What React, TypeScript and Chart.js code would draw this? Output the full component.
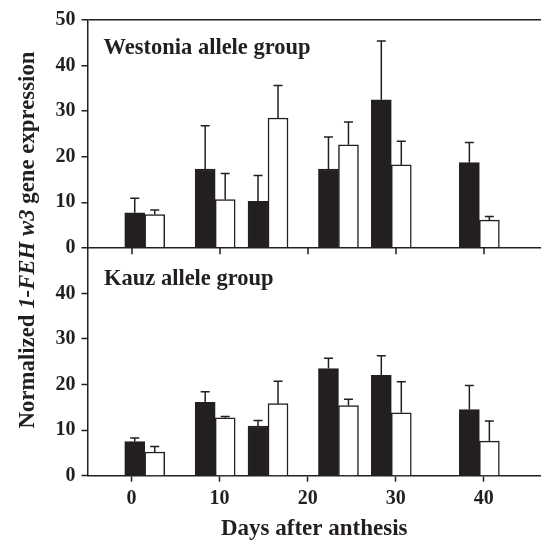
import React, { useEffect, useRef } from 'react';
import { Chart, registerables } from 'chart.js';

Chart.register(...registerables);

// ---- data ----
const days = [1.5, 9.5, 15.5, 23.5, 29.5, 39.5];
const westoniaFilled = [7.7, 17.3, 10.2, 17.3, 32.5, 18.7];
const westoniaFilledErr = [3.2, 9.5, 5.7, 7.0, 12.9, 4.4];
const westoniaOpen = [7.3, 10.6, 28.5, 22.6, 18.2, 6.1];
const westoniaOpenErr = [1.0, 5.7, 7.1, 5.0, 5.2, 0.8];
const kauzFilled = [7.5, 16.1, 10.9, 23.5, 22.0, 14.5];
const kauzFilledErr = [0.8, 2.3, 1.2, 2.3, 4.3, 5.3];
const kauzOpen = [5.2, 12.7, 15.8, 15.4, 13.8, 7.6];
const kauzOpenErr = [1.2, 0.3, 4.9, 1.4, 6.8, 4.4];
const panelLabels = ['Westonia allele group', 'Kauz allele group'];
const xTitle = 'Days after anthesis';
const yTitleParts = [
  { text: 'Normalized ', italic: false },
  { text: '1-FEH w3', italic: true },
  { text: ' gene expression', italic: false },
];

const INK = '#231f20';
const SERIF = "'Liberation Serif', 'Times New Roman', serif";

const toPoints = (vals: number[]) => days.map((d, i) => ({ x: d, y: vals[i] }));

const errorBarPlugin = {
  id: 'errorBars',
  afterDatasetsDraw(chart: any) {
    const ctx = chart.ctx;
    chart.data.datasets.forEach((ds: any, di: number) => {
      const meta = chart.getDatasetMeta(di);
      const yScale = chart.scales[meta.yAxisID];
      meta.data.forEach((bar: any, i: number) => {
        const v = ds.data[i].y;
        const top = yScale.getPixelForValue(v + ds.errors[i]);
        ctx.save();
        ctx.strokeStyle = INK;
        ctx.lineWidth = 1.5;
        ctx.beginPath();
        ctx.moveTo(bar.x, bar.y);
        ctx.lineTo(bar.x, top);
        ctx.moveTo(bar.x - 4.5, top);
        ctx.lineTo(bar.x + 4.5, top);
        ctx.stroke();
        ctx.restore();
      });
    });
  },
};

// tick marks of the shared x axis repeated under the upper panel
const midTicksPlugin = {
  id: 'midTicks',
  afterDraw(chart: any) {
    const { ctx } = chart;
    const xs = chart.scales.x;
    const yTop = chart.scales.yTop;
    const yb = yTop.getPixelForValue(0);
    ctx.save();
    ctx.strokeStyle = INK;
    ctx.lineWidth = 1.5;
    ctx.beginPath();
    xs.ticks.forEach((t: any) => {
      const px = Math.round(xs.getPixelForValue(t.value));
      ctx.moveTo(px, yb);
      ctx.lineTo(px, yb + 6.5);
    });
    ctx.stroke();
    ctx.restore();
  },
};

const textPlugin = {
  id: 'panelText',
  afterDraw(chart: any) {
    const { ctx, chartArea } = chart;
    const yTop = chart.scales.yTop;
    const yBottom = chart.scales.yBottom;
    ctx.save();
    ctx.fillStyle = INK;
    ctx.textAlign = 'left';
    ctx.textBaseline = 'alphabetic';
    ctx.font = `bold 22.5px ${SERIF}`;
    ctx.fillText(panelLabels[0], chartArea.left + 16, yTop.top + 34);
    ctx.fillText(panelLabels[1], chartArea.left + 16.5, yBottom.top + 36.7);

    // rotated y-axis title with mixed styles
    const fonts = yTitleParts.map((p) => `${p.italic ? 'italic ' : ''}bold 22.8px ${SERIF}`);
    const widths = yTitleParts.map((p, i) => {
      ctx.font = fonts[i];
      return ctx.measureText(p.text).width;
    });
    const total = widths.reduce((a, b) => a + b, 0);
    ctx.translate(33.5, 240);
    ctx.rotate(-Math.PI / 2);
    let x = -total / 2;
    yTitleParts.forEach((p, i) => {
      ctx.font = fonts[i];
      ctx.fillText(p.text, x, 0);
      x += widths[i];
    });
    ctx.restore();
  },
};

const tickFont = { family: SERIF, size: 20, weight: 'bold' as const };

export default function App() {
  const ref = useRef<HTMLCanvasElement>(null);

  useEffect(() => {
    const canvas = ref.current!;
    const barCommon = {
      barThickness: 20,
      borderWidth: 1.5,
      borderColor: INK,
      xAxisID: 'x',
    };
    const chart = new Chart(canvas, {
      type: 'bar',
      data: {
        datasets: [
          { ...barCommon, label: 'Westonia filled', data: toPoints(westoniaFilled), errors: westoniaFilledErr, backgroundColor: INK, stack: 'filled', yAxisID: 'yTop' } as any,
          { ...barCommon, label: 'Westonia open', data: toPoints(westoniaOpen), errors: westoniaOpenErr, backgroundColor: '#ffffff', stack: 'open', yAxisID: 'yTop' } as any,
          { ...barCommon, label: 'Kauz filled', data: toPoints(kauzFilled), errors: kauzFilledErr, backgroundColor: INK, stack: 'filled', yAxisID: 'yBottom' } as any,
          { ...barCommon, label: 'Kauz open', data: toPoints(kauzOpen), errors: kauzOpenErr, backgroundColor: '#ffffff', stack: 'open', yAxisID: 'yBottom' } as any,
        ],
      },
      options: {
        responsive: false,
        animation: false,
        devicePixelRatio: 1,
        layout: { padding: { left: 0, right: 0, top: 20, bottom: 0 } },
        plugins: { legend: { display: false }, tooltip: { enabled: false } },
        scales: {
          x: {
            type: 'linear',
            position: 'bottom',
            min: -5,
            max: 46.5,
            offset: false,
            ticks: { stepSize: 10, includeBounds: false, autoSkip: false, font: tickFont, color: INK, padding: 5, maxRotation: 0 },
            grid: { offset: false, drawOnChartArea: false, tickLength: 6, tickColor: INK, tickWidth: 1.5 },
            border: { color: INK, width: 1.5 },
            title: {
              display: true,
              text: xTitle,
              color: INK,
              font: { family: SERIF, size: 23, weight: 'bold', lineHeight: 1 },
              padding: { top: 0, bottom: 1 },
            },
            afterFit: (s: any) => { s.height = 66.3; },
          },
          yTop: {
            type: 'linear',
            position: 'left',
            stack: 'panels',
            stackWeight: 1,
            weight: 1,
            stacked: false,
            min: 0,
            max: 50,
            ticks: { stepSize: 10, autoSkip: false, font: tickFont, color: INK, padding: 6 },
            grid: {
              color: (c: any) => (c.tick && (c.tick.value === 50 || c.tick.value === 0) ? INK : 'rgba(0,0,0,0)'),
              lineWidth: 1.5,
              tickColor: INK,
              tickWidth: 1.5,
              tickLength: 6,
            },
            border: { color: INK, width: 1.5 },
            afterFit: (s: any) => { s.width = 87.5; },
          },
          yBottom: {
            type: 'linear',
            position: 'left',
            stack: 'panels',
            stackWeight: 1,
            weight: 0,
            stacked: false,
            min: 0,
            max: 50,
            ticks: {
              stepSize: 10,
              autoSkip: false,
              font: tickFont,
              color: INK,
              padding: 6,
              callback: (v: any) => (v === 50 ? '' : String(v)),
            },
            grid: {
              color: 'rgba(0,0,0,0)',
              tickColor: (c: any) => (c.tick && c.tick.value === 50 ? 'rgba(0,0,0,0)' : INK),
              tickWidth: 1.5,
              tickLength: 6,
            },
            border: { color: INK, width: 1.5 },
            afterFit: (s: any) => { s.width = 87.5; },
          },
        } as any,
      },
      plugins: [errorBarPlugin, midTicksPlugin, textPlugin],
    });
    return () => chart.destroy();
  }, []);

  return (
    <div style={{ position: 'absolute', left: 0, top: 0, width: 541, height: 542, background: '#ffffff' }}>
      <canvas ref={ref} width={541} height={542} style={{ display: 'block', width: 541, height: 542 }} />
    </div>
  );
}
